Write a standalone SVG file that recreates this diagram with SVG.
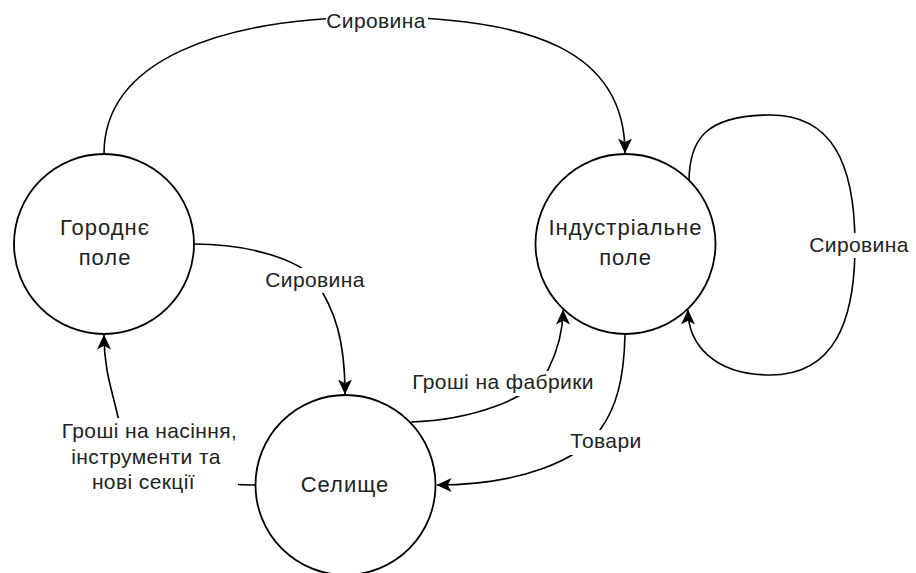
<svg xmlns="http://www.w3.org/2000/svg" width="916" height="573" viewBox="0 0 916 573">
  <style>
    .node { fill: #ffffff; stroke: #000000; stroke-width: 1.8; }
    .edge { fill: none; stroke: #000000; stroke-width: 1.6; }
    .arrow { marker-end: url(#arr); }
    .lbl { font-family: "Liberation Sans", Arial, sans-serif; font-size: 21px; letter-spacing: 0.4px; fill: #222222; text-anchor: middle; }
    .nlbl { font-family: "Liberation Sans", Arial, sans-serif; font-size: 22px; letter-spacing: 1px; fill: #222222; text-anchor: middle; }
    .bg { fill: #ffffff; stroke: none; }
  </style>
  <defs>
    <marker id="arr" markerUnits="userSpaceOnUse" viewBox="0 0 15 14" refX="14.5" refY="7" markerWidth="15" markerHeight="14" orient="auto">
      <path d="M15,7 L0,0 L3.8,7 L0,14 Z" fill="#000000"/>
    </marker>
  </defs>

  <g id="connectors">
    <g id="e-gorodne-industrial">
      <path class="edge arrow" d="M104,154 C104,60 220,18 375,17 C530,17 625,50 625,153"/>
      <rect class="bg" x="326" y="7" width="102" height="24"/>
      <text class="lbl" x="376" y="28">Сировина</text>
    </g>
    <g id="e-gorodne-selyshche">
      <path class="edge arrow" d="M194,244 C250,244 300,260 315,280 C335,310 345,340 345,394"/>
      <rect class="bg" x="263" y="268" width="104" height="25"/>
      <text class="lbl" x="315" y="287">Сировина</text>
    </g>
    <g id="e-selyshche-gorodne">
      <path class="edge arrow" d="M255,485 C180,485 125,450 118,417 C112,390 104,370 104,335"/>
      <rect class="bg" x="58" y="418" width="180" height="76"/>
      <text class="lbl" x="149.5" y="438">Гроші на насіння,</text>
      <text class="lbl" x="146" y="464">інструменти та</text>
      <text class="lbl" x="143.5" y="489">нові секції</text>
    </g>
    <g id="e-selyshche-industrial">
      <path class="edge arrow" d="M411,422 C470,420 530,400 548,370 C558,350 563,330 563,310"/>
      <rect class="bg" x="410" y="371" width="186" height="25"/>
      <text class="lbl" x="503" y="389">Гроші на фабрики</text>
    </g>
    <g id="e-industrial-selyshche">
      <path class="edge arrow" d="M625,335 C624,380 616,408 600,430 C580,460 520,485 437,485"/>
      <rect class="bg" x="568" y="430" width="76" height="25"/>
      <text class="lbl" x="606" y="448">Товари</text>
    </g>
    <g id="e-industrial-self">
      <path class="edge arrow" d="M689,182 C689,140 705,115 770,115 C830,115 855,160 855,245 C855,320 835,375 770,375 C715,375 688,345 688,310"/>
      <rect class="bg" x="807" y="233" width="104" height="25"/>
      <text class="lbl" x="859" y="252">Сировина</text>
    </g>
  </g>

  <g id="node-gorodne">
    <circle class="node" cx="104" cy="244" r="90"/>
    <text class="nlbl" x="105" y="235">Городнє</text>
    <text class="nlbl" x="105" y="265">поле</text>
  </g>
  <g id="node-industrial">
    <circle class="node" cx="625.5" cy="244" r="90"/>
    <text class="nlbl" x="625.5" y="235">Індустріальне</text>
    <text class="nlbl" x="625.5" y="265">поле</text>
  </g>
  <g id="node-selyshche">
    <circle class="node" cx="345.5" cy="485" r="90"/>
    <text class="nlbl" x="345" y="492">Селище</text>
  </g>
</svg>
